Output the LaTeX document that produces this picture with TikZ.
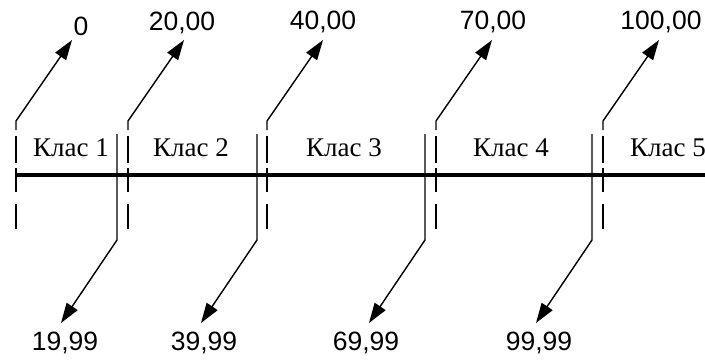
\documentclass[tikz,border=0pt]{standalone}
\usepackage{fontspec}
\setmainfont{Liberation Serif}
\newfontfamily\numfont{Liberation Sans}
\usetikzlibrary{arrows.meta}
\begin{document}
\begin{tikzpicture}[x=1pt,y=-1pt,
  thinline/.style={line width=1.4pt},
  axisline/.style={line width=3.8pt},
  pointer/.style={line width=1.4pt,-{Triangle[length=20pt,width=13pt]}},
  klas/.style={inner sep=0pt,font=\fontsize{27}{32}\selectfont},
  value/.style={inner sep=0pt,font=\numfont\fontsize{26.5}{32}\selectfont}]
\useasboundingbox (0,0) rectangle (705,360);

% axis
\coordinate (axL) at (16,175);
\coordinate (axR) at (705,175);
\draw[axisline] (axL) -- (axR);

% class names
\node[klas] (k1) at (71,148) {Клас 1};
\node[klas] (k2) at (191,148) {Клас 2};
\node[klas] (k3) at (344,148) {Клас 3};
\node[klas] (k4) at (511,148) {Клас 4};
\node[klas] (k5) at (668,148) {Клас 5};

% lower bounds: dashed marks with a pointer up to the value
\foreach \i/\x/\val/\lx/\ly in {1/16/0/81/26, 2/128/{20,00}/182/23, 3/267/{40,00}/323/22,
                                 4/436/{70,00}/493/22, 5/603/{100,00}/661/22}{
  \node[value] (lo\i) at (\lx,\ly) {\val};
  \coordinate (lobase\i) at (\x,130);
  \coordinate (lobend\i) at (\x,121);
  \coordinate (lotip\i) at (\x+56,40);
  \draw[pointer] (lobase\i) -- (lobend\i) -- (lotip\i);
  \draw[thinline] (\x,136) -- (\x,163) (\x,168) -- (\x,192) (\x,204) -- (\x,229);
}

% upper bounds: solid marks with a pointer down to the value
\foreach \i/\x/\val/\lx in {1/117/{19,99}/65, 2/257/{39,99}/204,
                            3/425/{69,99}/366, 4/592/{99,99}/539}{
  \node[value] (hi\i) at (\lx,343) {\val};
  \coordinate (hibase\i) at (\x,134);
  \coordinate (hibend\i) at (\x,240);
  \coordinate (hitip\i) at (\x-56,323);
  \draw[pointer] (hibase\i) -- (hibend\i) -- (hitip\i);
}
\end{tikzpicture}
\end{document}
